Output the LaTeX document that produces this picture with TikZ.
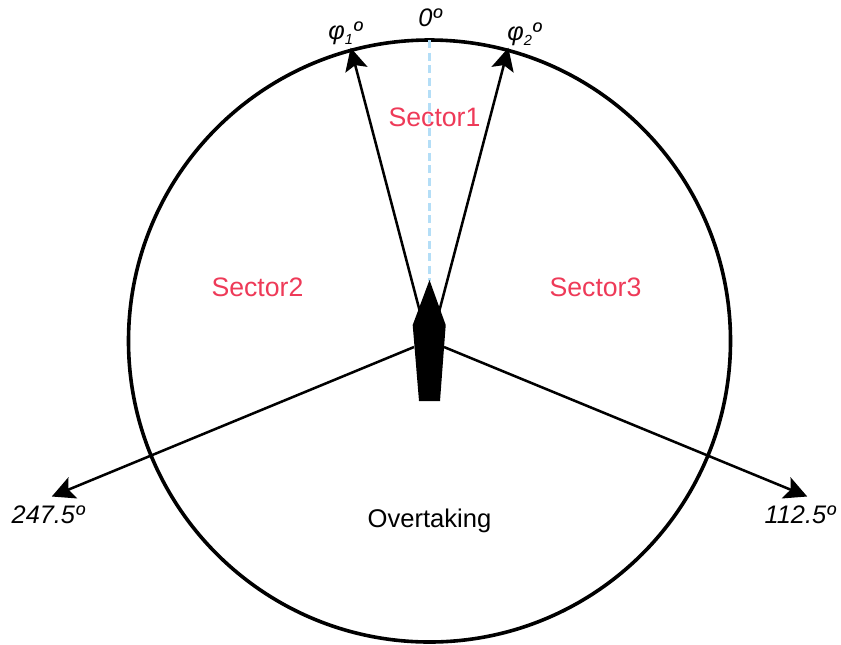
\documentclass[tikz,border=0pt]{standalone}
\usepackage{fontspec}
\setmainfont{Liberation Sans}
\usetikzlibrary{arrows.meta}
\definecolor{sectorred}{HTML}{EE3A58}
\definecolor{headingblue}{HTML}{B4DEF7}
\tikzset{
  bearing/.style={draw=black,line width=1.9pt,-{Stealth[length=17pt,width=17pt,inset=3.5pt]},shorten >=-1pt},
  ring/.style={draw=black,line width=2.7pt,circle,minimum size=451.5pt,inner sep=0pt},
  sectorlabel/.style={text=sectorred,font=\fontsize{20}{22}\selectfont,inner sep=0pt},
  plainlabel/.style={text=black,font=\fontsize{19.2}{22}\selectfont,inner sep=0pt},
  anglelabel/.style={text=black,font=\itshape\fontsize{19}{21}\selectfont,inner sep=0pt},
  headingline/.style={draw=headingblue,line width=1.8pt,dash pattern=on 6pt off 3.4pt}
}
\begin{document}
\begin{tikzpicture}[x=0.75pt,y=-0.75pt]
\useasboundingbox (0,0) rectangle (841,644);
\node[ring] (circ) at (429.5,341) {};
\coordinate (top) at (429.5,40);
\coordinate (tip) at (429.5,281);
\coordinate (a1) at (351,49);
\coordinate (a2) at (508,49);
\coordinate (a3) at (53,496);
\coordinate (a4) at (806,496);
\coordinate (s1) at (420,312);
\coordinate (s2) at (439,312);
\coordinate (s3) at (414,347);
\coordinate (s4) at (444,347);
\draw[headingline] (top) -- (tip);
\draw[bearing] (s1) -- (a1);
\draw[bearing] (s2) -- (a2);
\draw[bearing] (s3) -- (a3);
\draw[bearing] (s4) -- (a4);
\fill[black] (429.5,280) -- (445.7,325) -- (440,401) -- (419,401) -- (412.7,325) -- cycle;
\node[sectorlabel] (sec1) at (434.5,117) {Sector1};
\node[sectorlabel] (sec2) at (257.5,287) {Sector2};
\node[sectorlabel] (sec3) at (595.5,287) {Sector3};
\node[plainlabel] (over) at (429.5,521) {Overtaking};
\node[anglelabel] (zero) at (430,18) {0º};
\node[anglelabel,anchor=west] (phi1) at (328,33) {φ\raisebox{-4pt}{\fontsize{11}{12}\selectfont 1}º};
\node[anglelabel,anchor=west] (phi2) at (507,34) {φ\raisebox{-4pt}{\fontsize{11}{12}\selectfont 2}º};
\node[anglelabel] (b1) at (48,515) {247.5º};
\node[anglelabel] (b2) at (800,515) {112.5º};
\end{tikzpicture}
\end{document}
